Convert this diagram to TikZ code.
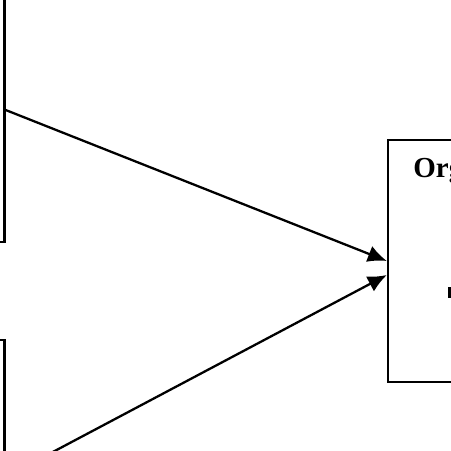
\documentclass[tikz,border=0pt]{standalone}
\usepackage{fontspec}
\setmainfont{Liberation Serif}
\usetikzlibrary{arrows.meta}

\begin{document}
\begin{tikzpicture}[scale=1,
		box/.style={draw, line width=1.3pt, inner sep=0pt},
		link/.style={line width=1.3pt, -{Latex[length=3.8mm,width=3.4mm]}}]
		\useasboundingbox (0,0) rectangle (9.02,9.02);
		\clip (0,0) rectangle (9.02,9.02);
		
		\path	(-1.91,6.82) node[box, minimum width=4cm, minimum height=5.28cm] (cause1) {}
			(-1.91,-0.52) node[box, minimum width=4cm, minimum height=5.48cm] (cause2) {}
			(10.26,3.8) node[box, minimum width=5cm, minimum height=4.84cm] (org) {};
		\node[anchor=base west, inner sep=0pt, font=\fontsize{16.5}{19}\selectfont\bfseries] (orgtitle) at (8.26,5.48) {Org};
		\fill (8.96,3.06) rectangle (9.06,3.28);
		
		\draw [link] (cause1.east) -- (org.west);
		\draw [link] (cause2.east) -- ([yshift=-0.28cm]org.west);
	\end{tikzpicture}
\end{document}
